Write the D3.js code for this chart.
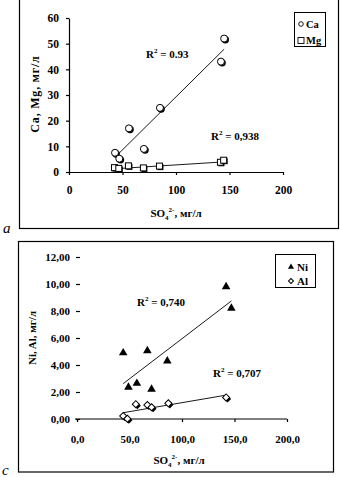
<!DOCTYPE html>
<html>
<head>
<meta charset="utf-8">
<script src="https://cdn.jsdelivr.net/npm/d3@7"></script>
<style>
  body { margin:0; background:#fff; }
  svg { display:block; }
  text { font-family: "Liberation Serif", "DejaVu Serif", serif; fill:#000; }
</style>
</head>
<body>
<svg id="chart" width="340" height="477"></svg>
<script>
// panel a
var so4Ca = [43, 47, 56, 70, 85, 142, 145]
var caVals = [7.5, 5.2, 17, 9, 25, 43, 52]
var so4Mg = [43, 47, 56, 70, 85, 142, 145]
var mgVals = [1.5, 1.2, 2.2, 1.4, 2.1, 3.6, 4.4]
var topXTicks = [0, 50, 100, 150, 200]
var topYTicks = [0, 10, 20, 30, 40, 50, 60]

// panel c
var so4Ni = [44, 49, 57, 67, 71, 86, 142, 147]
var niVals = [4.9, 2.35, 2.64, 5.05, 2.2, 4.3, 9.8, 8.2]
var so4Al = [44, 48, 56, 67, 71, 87, 142]
var alVals = [0.22, 0.02, 1.1, 1.04, 0.87, 1.16, 1.6]
var botXTicks = [0, 50, 100, 150, 200]
var botYTicks = [0, 2, 4, 6, 8, 10, 12]

var svg = d3.select('#chart')

function fit(xs, ys){
  var mx = d3.mean(xs), my = d3.mean(ys)
  var sxy = d3.sum(xs, function(x, i){ return (x - mx) * (ys[i] - my) })
  var sxx = d3.sum(xs, function(x){ return (x - mx) * (x - mx) })
  var b = sxy / sxx
  return { b: b, a: my - b * mx }
}

function trend(g, x, y, xs, ys){
  var f = fit(xs, ys)
  var x0 = d3.min(xs), x1 = d3.max(xs)
  g.append('line')
    .attr('x1', x(x0)).attr('y1', y(f.a + f.b * x0))
    .attr('x2', x(x1)).attr('y2', y(f.a + f.b * x1))
    .attr('stroke', '#000').attr('stroke-width', 0.9)
}

function so4Title(g, cx, cy){
  var t = g.append('text').attr('x', cx).attr('y', cy)
    .attr('text-anchor', 'middle').attr('font-size', 11).attr('font-weight', 'bold')
  t.append('tspan').text('SO')
  t.append('tspan').attr('font-size', 7).attr('dy', 3).text('4')
  t.append('tspan').attr('font-size', 7).attr('dy', -8).text('2-')
  t.append('tspan').attr('dy', 5).text(', мг/л')
}

function r2(g, px, py, val){
  var t = g.append('text').attr('x', px).attr('y', py)
    .attr('font-size', 11).attr('font-weight', 'bold')
  t.append('tspan').text('R')
  t.append('tspan').attr('font-size', 7).attr('dy', -5).text('2')
  t.append('tspan').attr('dy', 5).text(' = ' + val)
}

// rotated square, like the excel diamond marker
function diamond(g, cx, cy, s, fill, stroke){
  g.append('rect').attr('x', -s / 2).attr('y', -s / 2).attr('width', s).attr('height', s)
    .attr('transform', 'translate(' + cx + ',' + cy + ') rotate(45)')
    .attr('fill', fill).attr('stroke', stroke ? '#000' : 'none').attr('stroke-width', 1)
}

// ---------- panel a ----------
var gA = svg.append('g')
gA.append('rect').attr('x', 19.5).attr('y', -1).attr('width', 319).attr('height', 229.5)
  .attr('fill', 'none').attr('stroke', '#000').attr('stroke-width', 1.2)

var xA = d3.scaleLinear().domain([0, 200]).range([69, 283])
var yA = d3.scaleLinear().domain([0, 60]).range([172, 18])

gA.append('g').attr('transform', 'translate(0,172)')
  .call(d3.axisBottom(xA).tickValues(topXTicks).tickSize(3).tickPadding(11).tickSizeOuter(0))
gA.append('g').attr('transform', 'translate(69,0)')
  .call(d3.axisLeft(yA).tickValues(topYTicks).tickSize(3).tickPadding(7).tickSizeOuter(0))
gA.selectAll('.domain, .tick line').attr('stroke', '#000').attr('stroke-width', 1.2)
gA.selectAll('.tick text').attr('font-family', '"Liberation Serif", serif')
  .attr('font-size', 11.5).attr('font-weight', 'bold')

trend(gA, xA, yA, so4Ca, caVals)
trend(gA, xA, yA, so4Mg, mgVals)

// Mg squares
so4Mg.forEach(function(s, i){
  gA.append('rect').attr('x', xA(s) - 2.5).attr('y', yA(mgVals[i]) - 2.5)
    .attr('width', 6).attr('height', 6).attr('fill', '#000')
  gA.append('rect').attr('x', xA(s) - 3.5).attr('y', yA(mgVals[i]) - 3.5)
    .attr('width', 6).attr('height', 6).attr('fill', '#fff').attr('stroke', '#000').attr('stroke-width', 1)
})
// Ca circles
so4Ca.forEach(function(s, i){
  gA.append('circle').attr('cx', xA(s) + 1.2).attr('cy', yA(caVals[i]) + 1.2).attr('r', 3.7).attr('fill', '#000')
  gA.append('circle').attr('cx', xA(s)).attr('cy', yA(caVals[i])).attr('r', 3.5)
    .attr('fill', '#fff').attr('stroke', '#000').attr('stroke-width', 1)
})

r2(gA, 146, 58, '0.93')
r2(gA, 211, 140, '0,938')

gA.append('text').attr('transform', 'translate(39,94) rotate(-90)')
  .attr('text-anchor', 'middle').attr('font-size', 12).attr('font-weight', 'bold')
  .attr('letter-spacing', 0.8)
  .text('Ca, Mg, мг/л')
so4Title(gA, 176, 217)

// legend a
gA.append('rect').attr('x', 294.5).attr('y', 12.5).attr('width', 31).attr('height', 34)
  .attr('fill', '#fff').attr('stroke', '#000').attr('stroke-width', 1)
gA.append('circle').attr('cx', 301).attr('cy', 24).attr('r', 2.3)
  .attr('fill', '#fff').attr('stroke', '#000').attr('stroke-width', 0.9)
gA.append('rect').attr('x', 298).attr('y', 37.5).attr('width', 6).attr('height', 6)
  .attr('fill', '#fff').attr('stroke', '#000').attr('stroke-width', 0.9)
gA.append('text').attr('x', 306).attr('y', 28).attr('font-size', 10.5).attr('font-weight', 'bold').text('Ca')
gA.append('text').attr('x', 306).attr('y', 44).attr('font-size', 10.5).attr('font-weight', 'bold').text('Mg')

gA.append('text').attr('x', 3).attr('y', 233).attr('font-size', 15).attr('font-style', 'italic').text('a')

// ---------- panel c ----------
var gC = svg.append('g')
gC.append('rect').attr('x', 18.5).attr('y', 241.5).attr('width', 315).attr('height', 230.5)
  .attr('fill', 'none').attr('stroke', '#000').attr('stroke-width', 1.2)

var xC = d3.scaleLinear().domain([0, 200]).range([77, 287])
var yC = d3.scaleLinear().domain([0, 12]).range([419, 257])

var xAxC = gC.append('g').attr('transform', 'translate(0,419)')
  .call(d3.axisBottom(xC).tickValues(botXTicks).tickSize(3).tickPadding(13).tickSizeOuter(0)
    .tickFormat(function(d){ return d3.format('.1f')(d).replace('.', ',') }))
xAxC.select('.domain').attr('d', 'M75,0H287')
var yAxC = gC.append('g').attr('transform', 'translate(80,0)')
  .call(d3.axisLeft(yC).tickValues(botYTicks).tickSize(4).tickPadding(6).tickSizeOuter(0)
    .tickFormat(function(d){ return d3.format('.2f')(d).replace('.', ',') }))
yAxC.select('.domain').remove()
gC.selectAll('.domain, .tick line').attr('stroke', '#000').attr('stroke-width', 1.2)
gC.selectAll('.tick text').attr('font-family', '"Liberation Serif", serif')
  .attr('font-size', 11).attr('font-weight', 'bold')

trend(gC, xC, yC, so4Ni, niVals)
trend(gC, xC, yC, so4Al, alVals)

var tri = d3.symbol().type(d3.symbolTriangle).size(32)
so4Ni.forEach(function(s, i){
  gC.append('path').attr('d', tri)
    .attr('transform', 'translate(' + xC(s) + ',' + yC(niVals[i]) + ')').attr('fill', '#000')
})
so4Al.forEach(function(s, i){
  diamond(gC, xC(s) + 1.5, yC(alVals[i]) + 1.5, 5, '#000', false)
  diamond(gC, xC(s), yC(alVals[i]), 5, '#fff', true)
})

r2(gC, 137, 306, '0,740')
r2(gC, 213, 377, '0,707')

gC.append('text').attr('transform', 'translate(36,338) rotate(-90)')
  .attr('text-anchor', 'middle').attr('font-size', 11).attr('font-weight', 'bold')
  .text('Ni, Al, мг/л')
so4Title(gC, 179, 464)

// legend c
gC.append('rect').attr('x', 275.5).attr('y', 254.5).attr('width', 40).attr('height', 33)
  .attr('fill', '#fff').attr('stroke', '#000').attr('stroke-width', 1)
gC.append('path').attr('d', d3.symbol().type(d3.symbolTriangle).size(16))
  .attr('transform', 'translate(291,267)').attr('fill', '#000')
diamond(gC, 291, 281, 3.5, '#fff', true)
gC.append('text').attr('x', 297).attr('y', 271).attr('font-size', 11).attr('font-weight', 'bold').text('Ni')
gC.append('text').attr('x', 297).attr('y', 285).attr('font-size', 11).attr('font-weight', 'bold').text('Al')

gC.append('text').attr('x', 2).attr('y', 475).attr('font-size', 15).attr('font-style', 'italic').text('c')
</script>
</body>
</html>
